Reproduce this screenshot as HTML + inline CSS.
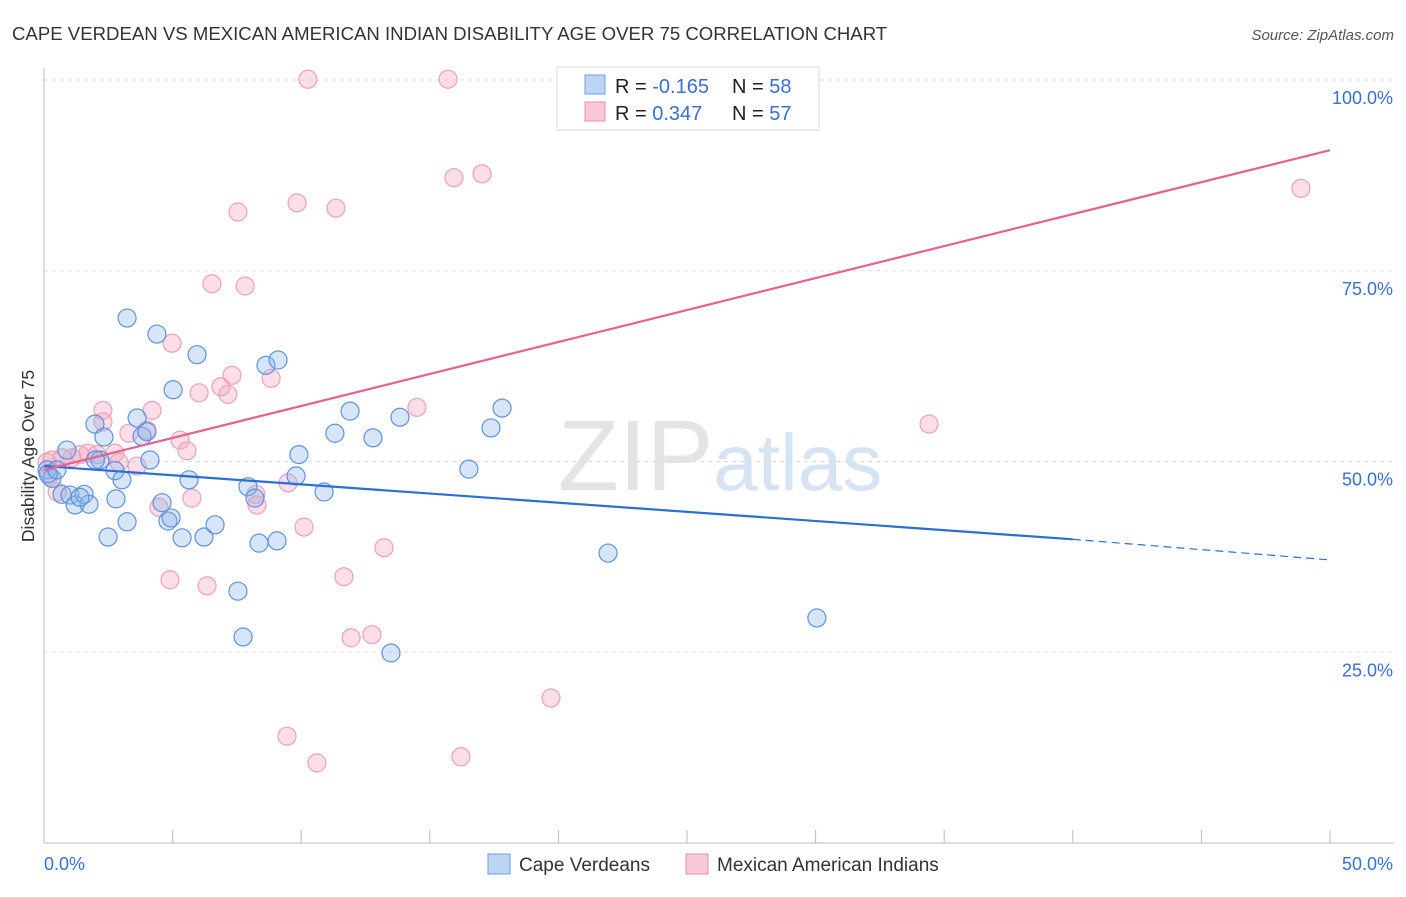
<!DOCTYPE html>
<html><head><meta charset="utf-8"><style>
body{margin:0;background:#fff;font-family:"Liberation Sans",sans-serif}
svg text{font-family:"Liberation Sans",sans-serif}
</style></head><body>
<svg id="c" width="1406" height="892" xmlns="http://www.w3.org/2000/svg">
<text x="12" y="40" font-size="18.6" fill="#333">CAPE VERDEAN VS MEXICAN AMERICAN INDIAN DISABILITY AGE OVER 75 CORRELATION CHART</text>
<text x="1394" y="40" font-size="15" fill="#555" text-anchor="end" font-style="italic">Source: ZipAtlas.com</text>
<text transform="translate(34,456) rotate(-90)" font-size="17.5" fill="#333" text-anchor="middle">Disability Age Over 75</text>
<text x="720" y="490" font-size="100" fill="#e4e4e4" text-anchor="middle" font-family="Liberation Serif">ZIP<tspan fill="#d5e3f3" font-family="Liberation Sans" font-size="80">atlas</tspan></text>
<g id="grid"></g><g id="pts"></g><g id="trends"></g>
<g>
<rect x="557" y="67" width="262" height="63" fill="#fff" stroke="#ddd"/>
<rect x="585" y="75" width="20" height="19" fill="#bcd5f5" stroke="#6f9fe0"/>
<rect x="585" y="102" width="20" height="19" fill="#f8c8d8" stroke="#e890ae"/>
<text x="615" y="93" font-size="20" fill="#222">R = <tspan fill="#3a6fd0">-0.165</tspan><tspan x="732">N = </tspan><tspan fill="#3a6fd0">58</tspan></text>
<text x="615" y="120" font-size="20" fill="#222">R = <tspan fill="#3a6fd0"> 0.347</tspan><tspan x="732">N = </tspan><tspan fill="#3a6fd0">57</tspan></text>
</g>
<g>
<rect x="488" y="854" width="22" height="20" fill="#bcd5f5" stroke="#6f9fe0"/>
<text x="519" y="871" font-size="19" fill="#333">Cape Verdeans</text>
<rect x="686" y="854" width="22" height="20" fill="#f8c8d8" stroke="#e890ae"/>
<text x="717" y="871" font-size="19" fill="#333">Mexican American Indians</text>
</g>
</svg>
<script>
const blueX=[0.12,0.31,0.89,0.70,1.01,1.21,1.56,1.75,1.98,2.18,2.33,2.49,2.76,2.80,3.03,3.23,3.23,3.62,3.81,4.00,4.12,4.39,4.59,4.82,4.94,5.02,5.37,5.64,5.95,6.22,6.65,7.54,7.74,7.93,8.20,8.36,8.63,9.06,9.10,9.91,9.80,10.89,11.31,11.90,12.79,13.49,13.84,16.52,17.38,17.81,21.93,30.05,0.16,0.5,1.4,2.0];
const blueY=[48.9,47.8,51.5,45.7,45.6,44.3,45.7,44.4,54.9,50.2,53.2,40.1,48.8,45.1,47.6,42.1,68.8,55.7,53.3,53.9,50.2,66.7,44.6,42.2,42.6,59.4,40.0,47.6,64.0,40.1,41.7,33.0,27.0,46.7,45.2,39.3,62.6,39.6,63.3,50.9,48.1,46.0,53.7,56.6,53.1,24.9,55.8,49.0,54.4,57.0,38.0,29.5,48.4,48.9,45.3,50.2];
const pinkX=[0.31,0.51,0.70,1.09,1.40,1.71,2.06,2.29,2.29,2.76,2.92,3.30,3.62,4.00,4.20,4.47,4.90,4.98,5.29,5.56,5.75,6.03,6.34,6.53,6.88,7.15,7.31,7.54,7.82,8.24,8.28,8.83,9.45,9.84,9.49,10.11,10.26,10.61,11.35,11.66,11.94,12.75,13.22,14.50,15.71,15.94,16.21,17.03,19.71,29.28,34.41,48.87,0.12,0.2];
const pinkY=[50.2,46.0,50.5,50.5,50.9,51.1,50.9,55.2,56.7,51.1,49.9,53.7,49.4,54.1,56.7,44.0,34.5,65.5,52.8,51.4,45.2,59.0,33.7,73.3,59.8,58.8,61.3,82.7,73.0,45.7,44.3,60.9,14.0,83.9,47.2,41.4,100.1,10.5,83.2,34.9,26.9,27.3,38.7,57.1,100.1,87.2,11.3,87.7,19.0,100.1,54.9,85.8,49.9,48.1];
const blueTrendX=[0,40,50], blueTrendY=[49.4,39.8,37.1];
const pinkTrendX=[0,50], pinkTrendY=[48.9,90.8];
const yTicks=[25,50,75,100], yTickLabels=["25.0%","50.0%","75.0%","100.0%"];
const xTicks=[0,5,10,15,20,25,30,35,40,45,50];
const NS="http://www.w3.org/2000/svg";
const sx=v=>44+v*25.72, sy=v=>843-v*7.63;
function mk(t,a,p){const e=document.createElementNS(NS,t);for(const k in a)e.setAttribute(k,a[k]);p.appendChild(e);return e;}
const g=document.getElementById('grid');
yTicks.forEach((t,i)=>{
 const l=mk('line',{x1:44,x2:1394,y1:sy(t),y2:sy(t),stroke:'#ddd','stroke-dasharray':'4,4'},g);
 
 
 const tx=mk('text',{x:1393,y:sy(t)+24,'font-size':18,fill:'#3a6fd0','text-anchor':'end'},g);tx.textContent=yTickLabels[i];
 
 
});
const ax=mk('line',{x1:44,x2:44,y1:68,y2:843,stroke:'#bbb'},g);


const bx=mk('line',{x1:44,x2:1394,y1:843,y2:843,stroke:'#bbb'},g);


xTicks.forEach(t=>{const l=mk('line',{x1:sx(t),x2:sx(t),y1:830,y2:843,stroke:'#bbb'},g);
 
 });
const xl0=mk('text',{x:44,y:870,'font-size':18,fill:'#3a6fd0'},g);xl0.textContent='0.0%';


const xl1=mk('text',{x:1393,y:870,'font-size':18,fill:'#3a6fd0','text-anchor':'end'},g);xl1.textContent='50.0%';


const p=document.getElementById('pts');
pinkX.forEach((x,i)=>{const c=mk('circle',{cx:sx(x),cy:sy(pinkY[i]),r:9,fill:'rgba(244,160,190,0.35)',stroke:'#eea0bb','stroke-width':1.2},p);
 
 });
blueX.forEach((x,i)=>{const c=mk('circle',{cx:sx(x),cy:sy(blueY[i]),r:9,fill:'rgba(140,180,235,0.35)',stroke:'#5f93dc','stroke-width':1.2},p);
 
 });
const tr=document.getElementById('trends');
const b1=mk('line',{x1:sx(blueTrendX[0]),y1:sy(blueTrendY[0]),x2:sx(blueTrendX[1]),y2:sy(blueTrendY[1]),stroke:'#2a6fd6','stroke-width':2.2},tr);


const b2=mk('line',{x1:sx(blueTrendX[1]),y1:sy(blueTrendY[1]),x2:sx(blueTrendX[2]),y2:sy(blueTrendY[2]),stroke:'#2a6fd6','stroke-width':1.2,'stroke-dasharray':'8,5'},tr);


const p1=mk('line',{x1:sx(pinkTrendX[0]),y1:sy(pinkTrendY[0]),x2:sx(pinkTrendX[1]),y2:sy(pinkTrendY[1]),stroke:'#e4628f','stroke-width':2.2},tr);


</script>
</body></html>
